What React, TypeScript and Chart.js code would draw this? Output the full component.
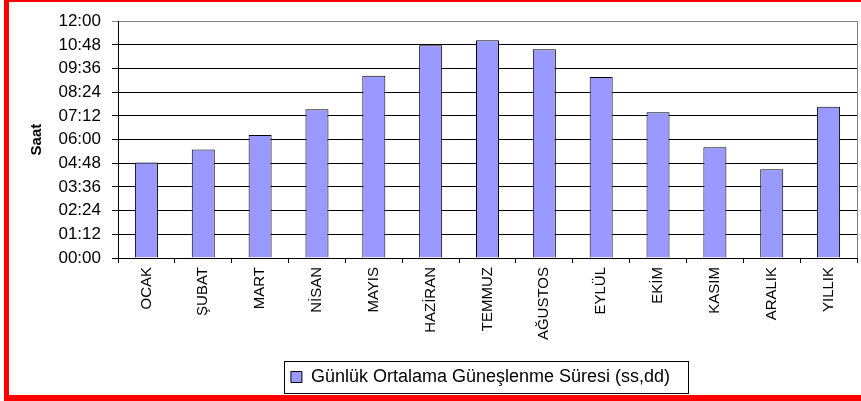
import React, { useEffect, useRef } from 'react';
import { Chart, registerables } from 'chart.js';

Chart.register(...registerables);

const categories = ['OCAK', 'ŞUBAT', 'MART', 'NİSAN', 'MAYIS', 'HAZİRAN', 'TEMMUZ', 'AĞUSTOS', 'EYLÜL', 'EKİM', 'KASIM', 'ARALIK', 'YILLIK'];
// daily mean sunshine duration, in minutes
const sunshineMinutes = [290, 330, 374, 452, 554, 647, 662, 635, 550, 443, 337, 270, 460];
const yMaxMinutes = 720;
const yStepMinutes = 72;
const seriesLabel = 'Günlük Ortalama Güneşlenme Süresi (ss,dd)';
const yAxisTitle = 'Saat';

const FONT = "'Liberation Sans', Arial, sans-serif";

function formatHM(v: number): string {
  const total = Math.round(v);
  const h = Math.floor(total / 60);
  const m = total % 60;
  return String(h).padStart(2, '0') + ':' + String(m).padStart(2, '0');
}

const framePlugin = {
  id: 'frameAndLegendBox',
  afterLayout(chart: any) {
    const lg = chart.legend;
    if (lg) {
      lg.left -= 7;
      lg.right -= 7;
    }
  },
  afterDraw(chart: any) {
    const { ctx, chartArea: ca } = chart;
    ctx.save();
    ctx.strokeStyle = '#808080';
    ctx.lineWidth = 1;
    const rx = Math.round(ca.right) + 0.5;
    ctx.beginPath();
    ctx.moveTo(rx, ca.top);
    ctx.lineTo(rx, ca.bottom);
    ctx.stroke();

    const lg = chart.legend;
    if (lg) {
      ctx.font = '18px ' + FONT;
      const tw = ctx.measureText(seriesLabel).width;
      const itemW = 11 + 9 + tw;
      const startX = (lg.left + lg.right - itemW) / 2;
      const midY = lg.top + 10 + 9;
      ctx.strokeStyle = '#000';
      ctx.lineWidth = 1;
      ctx.strokeRect(Math.round(startX - 7) + 0.5, Math.round(midY - 16) + 0.5, Math.round(itemW + 25), 32);
    }
    ctx.restore();
  },
};

export default function App() {
  const canvasRef = useRef<HTMLCanvasElement | null>(null);

  useEffect(() => {
    if (!canvasRef.current) return;
    const chart = new Chart(canvasRef.current, {
      type: 'bar',
      data: {
        labels: categories,
        datasets: [
          {
            label: seriesLabel,
            data: sunshineMinutes,
            backgroundColor: '#9999FF',
            borderColor: '#000000',
            borderWidth: 1,
            categoryPercentage: 1,
            barPercentage: 0.405,
          },
        ],
      },
      options: {
        responsive: false,
        animation: false,
        devicePixelRatio: 1,
        layout: { padding: { left: 10, right: 4, top: 17, bottom: 5 } },
        plugins: {
          legend: {
            display: true,
            position: 'bottom',
            fullSize: false,
            labels: {
              font: { family: FONT, size: 18 },
              color: '#000',
              boxWidth: 11,
              boxHeight: 11,
              padding: 10,
            },
          },
          tooltip: { enabled: false },
        },
        scales: {
          x: {
            grid: {
              drawOnChartArea: false,
              drawTicks: true,
              tickLength: 5,
              color: '#000',
              offset: true,
            },
            border: { display: true, color: '#000', width: 1 },
            ticks: {
              autoSkip: false,
              minRotation: 90,
              maxRotation: 90,
              padding: 4,
              color: '#000',
              font: { family: FONT, size: 15 },
            },
            afterFit: (scale: any) => {
              scale.height = 100;
            },
          },
          y: {
            min: 0,
            max: yMaxMinutes,
            ticks: {
              stepSize: yStepMinutes,
              padding: 11,
              color: '#000',
              font: { family: FONT, size: 17 },
              callback: (v: any) => formatHM(Number(v)),
            },
            grid: {
              drawTicks: true,
              tickLength: 6,
              color: (ctx: any) => (ctx.tick && ctx.tick.value === yMaxMinutes ? '#808080' : '#000'),
              lineWidth: 1,
            },
            border: { display: true, color: '#000', width: 1 },
            title: {
              display: true,
              text: yAxisTitle,
              color: '#000',
              font: { family: FONT, size: 15, weight: 'bold' },
              padding: { top: 18, bottom: 0 },
            },
            afterFit: (scale: any) => {
              scale.width = 108;
            },
          },
        },
      },
      plugins: [framePlugin],
    } as any);
    return () => chart.destroy();
  }, []);

  return (
    <div style={{ position: 'fixed', left: 0, top: 0, width: 861, height: 401, background: '#fff', overflow: 'hidden' }}>
      <canvas ref={canvasRef} width={861} height={401} style={{ position: 'absolute', left: 0, top: 0, width: 861, height: 401 }} />
      <div style={{ position: 'absolute', left: 4, top: 0, width: 857, height: 2, background: '#ff0000' }} />
      <div style={{ position: 'absolute', left: 4, top: 0, width: 5, height: 401, background: '#ff0000' }} />
      <div style={{ position: 'absolute', left: 4, top: 395, width: 857, height: 6, background: '#ff0000' }} />
    </div>
  );
}
